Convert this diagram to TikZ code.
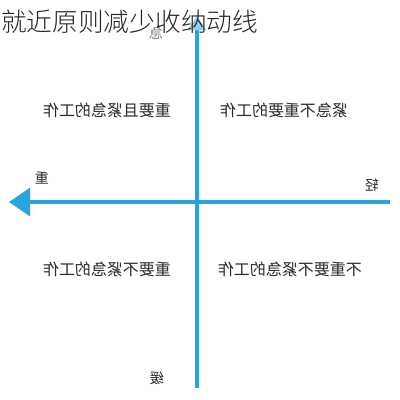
\documentclass[tikz,border=0pt]{standalone}
\usepackage{fontspec}
\newfontfamily\cjk{Noto Sans CJK SC}
\newfontfamily\cjkleve{Noto Sans CJK SC}[UprightFont={* Light}]
\usetikzlibrary{arrows.meta}
\definecolor{eixo}{HTML}{26A6DE}
\definecolor{ponta}{HTML}{8FD0EE}
\definecolor{texto}{HTML}{2B2B2B}
\newcommand{\espelho}[1]{\scalebox{-1}[1]{#1}}

\begin{document}
\begin{tikzpicture}[x=1pt,y=-1pt,
  quadrante/.style={text=texto,font=\cjk\fontsize{16}{16}\selectfont,inner sep=0pt},
  rotulo/.style={text=texto,font=\cjk\fontsize{14}{14}\selectfont,inner sep=0pt}]

% Fundo e margens
\fill[white] (0,0) rectangle (400,400);
\useasboundingbox (0,0) rectangle (400,400);

% Extremos dos eixos
\coordinate (direita) at (390,202);
\coordinate (esquerda) at (9,202);
\coordinate (baixo) at (197,388);
\coordinate (cima) at (197,16);

% Eixo horizontal (importancia)
\draw[eixo,line width=3.2,-{Triangle[length=21,width=28]}] (direita) -- (esquerda);

% Eixo vertical (urgencia)
\draw[eixo,line width=3.2,-{Triangle[length=14,width=18,fill=ponta,color=ponta]}] (baixo) -- (cima);

% Rotulos dos eixos
\node[rotulo] (pesado) at (42,178) {\espelho{重}};
\node[rotulo] (leve) at (372,185) {\espelho{轻}};
\node[rotulo,text=gray] (urgente) at (156,33) {\espelho{急}};
\node[rotulo] (lento) at (157,378) {\espelho{缓}};

% Quadrantes
\node[quadrante] (q1) at (107,110) {\espelho{重要且紧急的工作}};
\node[quadrante] (q2) at (284,110) {\espelho{紧急不重要的工作}};
\node[quadrante] (q3) at (107,269) {\espelho{重要不紧急的工作}};
\node[quadrante] (q4) at (290,269) {\espelho{不重要不紧急的工作}};

% Titulo
\node[anchor=west,inner sep=0pt,text=black!85,font=\cjkleve\fontsize{25.7}{26}\selectfont] (titulo) at (1,22) {就近原则减少收纳动线};

\end{tikzpicture}
\end{document}
